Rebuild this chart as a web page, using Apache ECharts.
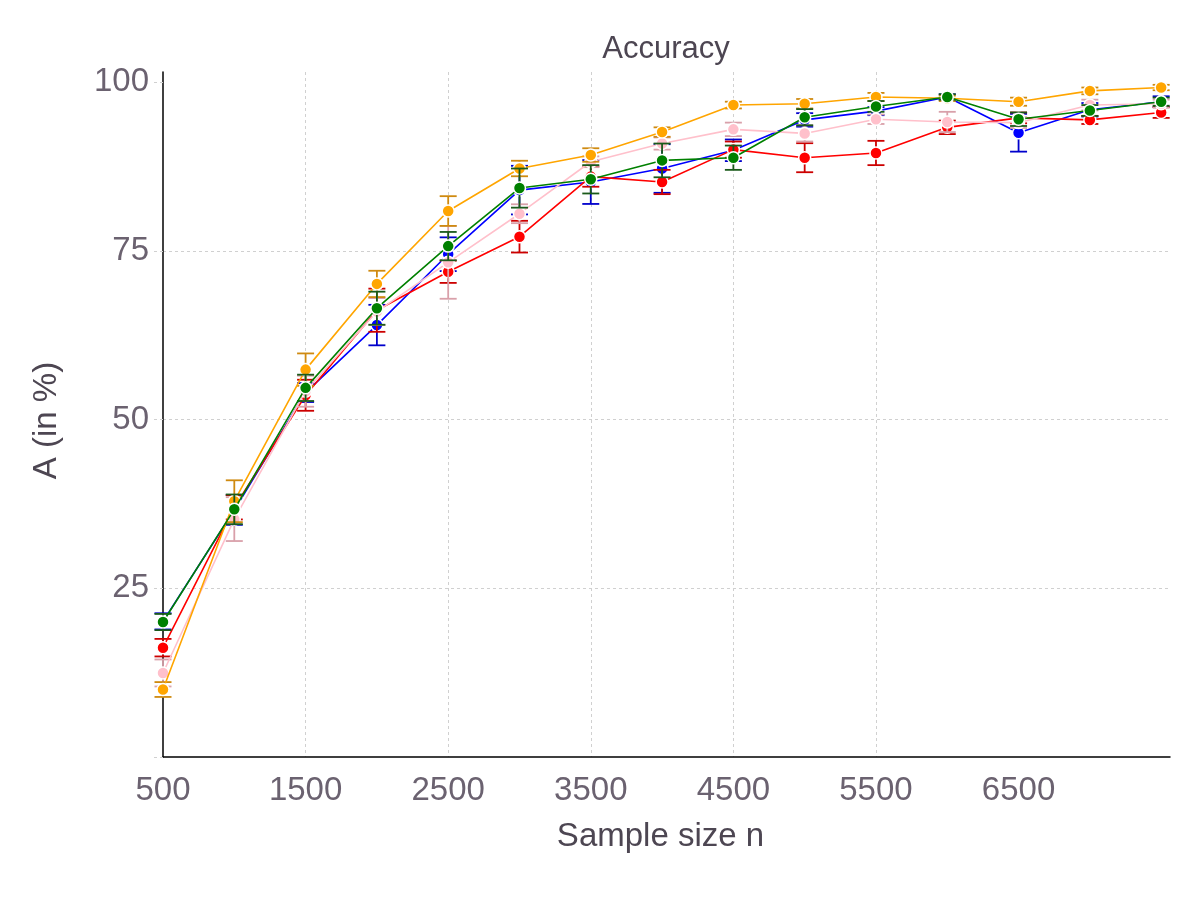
<!DOCTYPE html>
<html>
<head>
<meta charset="utf-8">
<script src="https://cdn.jsdelivr.net/npm/echarts@6/dist/echarts.min.js"></script>
<style>html,body{margin:0;padding:0;background:#fff}#c{width:1200px;height:900px}</style>
</head>
<body>
<div id="c"></div>
<script>
// ---- data ----
const sampleSizes = [500,1000,1500,2000,2500,3000,3500,4000,4500,5000,5500,6000,6500,7000,7500];
const xTickValues = [500,1500,2500,3500,4500,5500,6500];
const yTickValues = [0,25,50,75,100];
const yLabelValues = [25,50,75,100];

const blueMean  = [20.1,36.6,54.0,64.0,74.5,84.0,85.2,87.2,89.9,94.4,95.7,97.8,92.5,95.9,97.1];
const blueErr   = [1.2,2.2,1.4,3.0,2.5,3.6,3.25,3.6,1.6,1.0,0.6,0.4,2.8,1.0,0.8];
const redMean   = [16.2,37.0,53.6,66.2,71.9,77.1,86.0,85.2,90.0,88.8,89.5,93.3,94.7,94.4,95.5];
const redErr    = [1.3,1.8,2.3,3.2,1.65,2.35,1.5,1.8,1.2,2.15,1.8,1.0,0.8,0.6,0.8];
const pinkMean  = [12.45,35.25,54.2,66.0,73.3,80.5,88.2,90.9,93.0,92.4,94.5,94.1,94.0,96.6,96.8];
const pinkErr   = [2.0,3.25,2.3,2.0,5.4,1.4,0.8,0.9,1.0,1.2,0.7,1.5,0.8,0.8,0.6];
const orangeMean= [10.0,37.9,57.4,70.1,80.9,87.2,89.2,92.6,96.6,96.8,97.8,97.6,97.1,98.7,99.2];
const orangeErr = [1.1,3.1,2.4,1.95,2.2,1.15,1.0,0.7,0.5,0.7,0.6,0.4,0.6,0.5,0.4];
const greenMean = [20.0,36.7,54.7,66.5,75.7,84.3,85.6,88.4,88.8,94.8,96.4,97.8,94.5,95.8,97.1];
const greenErr  = [1.2,2.2,1.95,2.45,2.1,2.9,2.1,2.5,1.8,1.2,0.8,0.4,1.0,0.8,0.6];

const seriesDefs = [
  {name:'blue',   mean:blueMean,   err:blueErr,   color:'#0000ff', errColor:'#0000cc'},
  {name:'red',    mean:redMean,    err:redErr,    color:'#ff0000', errColor:'#cc0000'},
  {name:'pink',   mean:pinkMean,   err:pinkErr,   color:'#ffc0cb', errColor:'#d9a0aa'},
  {name:'orange', mean:orangeMean, err:orangeErr, color:'#ffa500', errColor:'#cf8a10'},
  {name:'green',  mean:greenMean,  err:greenErr,  color:'#008000', errColor:'#1a5a1a'}
];

const FONT = 'Liberation Sans';
const chart = echarts.init(document.getElementById('c'), null, {renderer:'canvas'});

const series = [];
seriesDefs.forEach((d, si) => {
  series.push({
    type:'custom',
    name:d.name + ' err',
    z: 2 + si*2,
    data: sampleSizes.map((n,i)=>[n, d.mean[i]-d.err[i], d.mean[i]+d.err[i]]),
    encode:{x:0, y:[1,2]},
    renderItem:(params, api) => {
      const lo = api.coord([api.value(0), api.value(1)]);
      const hi = api.coord([api.value(0), api.value(2)]);
      const hw = 8.5;
      const st = {stroke:d.errColor, lineWidth:1.8};
      return {type:'group', children:[
        {type:'line', shape:{x1:lo[0],y1:lo[1],x2:hi[0],y2:hi[1]}, style:st},
        {type:'line', shape:{x1:lo[0]-hw,y1:lo[1],x2:lo[0]+hw,y2:lo[1]}, style:st},
        {type:'line', shape:{x1:hi[0]-hw,y1:hi[1],x2:hi[0]+hw,y2:hi[1]}, style:st}
      ]};
    },
    silent:true
  });
  series.push({
    type:'line',
    name:d.name,
    z: 3 + si*2,
    data: sampleSizes.map((n,i)=>[n, d.mean[i]]),
    symbol:'circle',
    symbolSize:12,
    lineStyle:{color:d.color, width:1.6},
    itemStyle:{color:d.color, borderColor:'#ffffff', borderWidth:1.5},
    animation:false
  });
});

chart.setOption({
  animation:false,
  backgroundColor:'#ffffff',
  title:{
    text:'Accuracy', left:661, top:29, textAlign:'center',
    textStyle:{fontFamily:FONT, fontSize:31, fontWeight:'normal', color:'#4d4652'}
  },
  grid:{left:163, right:30, top:72, bottom:143, containLabel:false},
  xAxis:{
    type:'value', min:500, max:7562,
    name:'Sample size n', nameLocation:'middle', nameGap:63,
    nameTextStyle:{fontFamily:FONT, fontSize:33, color:'#4d4652', padding:[0,12,0,0]},
    axisLine:{show:true, onZero:false, lineStyle:{color:'#000000', width:1.5}},
    axisTick:{show:false, customValues:xTickValues},
    axisLabel:{customValues:xTickValues, formatter:v=>String(v), fontFamily:FONT, fontSize:33, color:'#6b6270', margin:17},
    splitLine:{show:true, showMinLine:false, showMaxLine:false, lineStyle:{color:'#d0d0d0', width:1, type:[3,3]}}
  },
  yAxis:{
    type:'value', min:0, max:101.5,
    name:'A (in %)', nameLocation:'middle', nameGap:100,
    nameTextStyle:{fontFamily:FONT, fontSize:33, color:'#4d4652', padding:[0,12,0,0]},
    axisLine:{show:true, onZero:false, lineStyle:{color:'#000000', width:1.5}},
    axisTick:{show:true, customValues:yTickValues, length:10, lineStyle:{color:'#d0d0d0', type:[3,3]}},
    axisLabel:{customValues:yLabelValues, formatter:v=>String(v), fontFamily:FONT, fontSize:33, color:'#6b6270', margin:14},
    splitLine:{show:true, showMinLine:false, showMaxLine:false, lineStyle:{color:'#d0d0d0', width:1, type:[3,3]}}
  },
  series:series
});
</script>
</body>
</html>
